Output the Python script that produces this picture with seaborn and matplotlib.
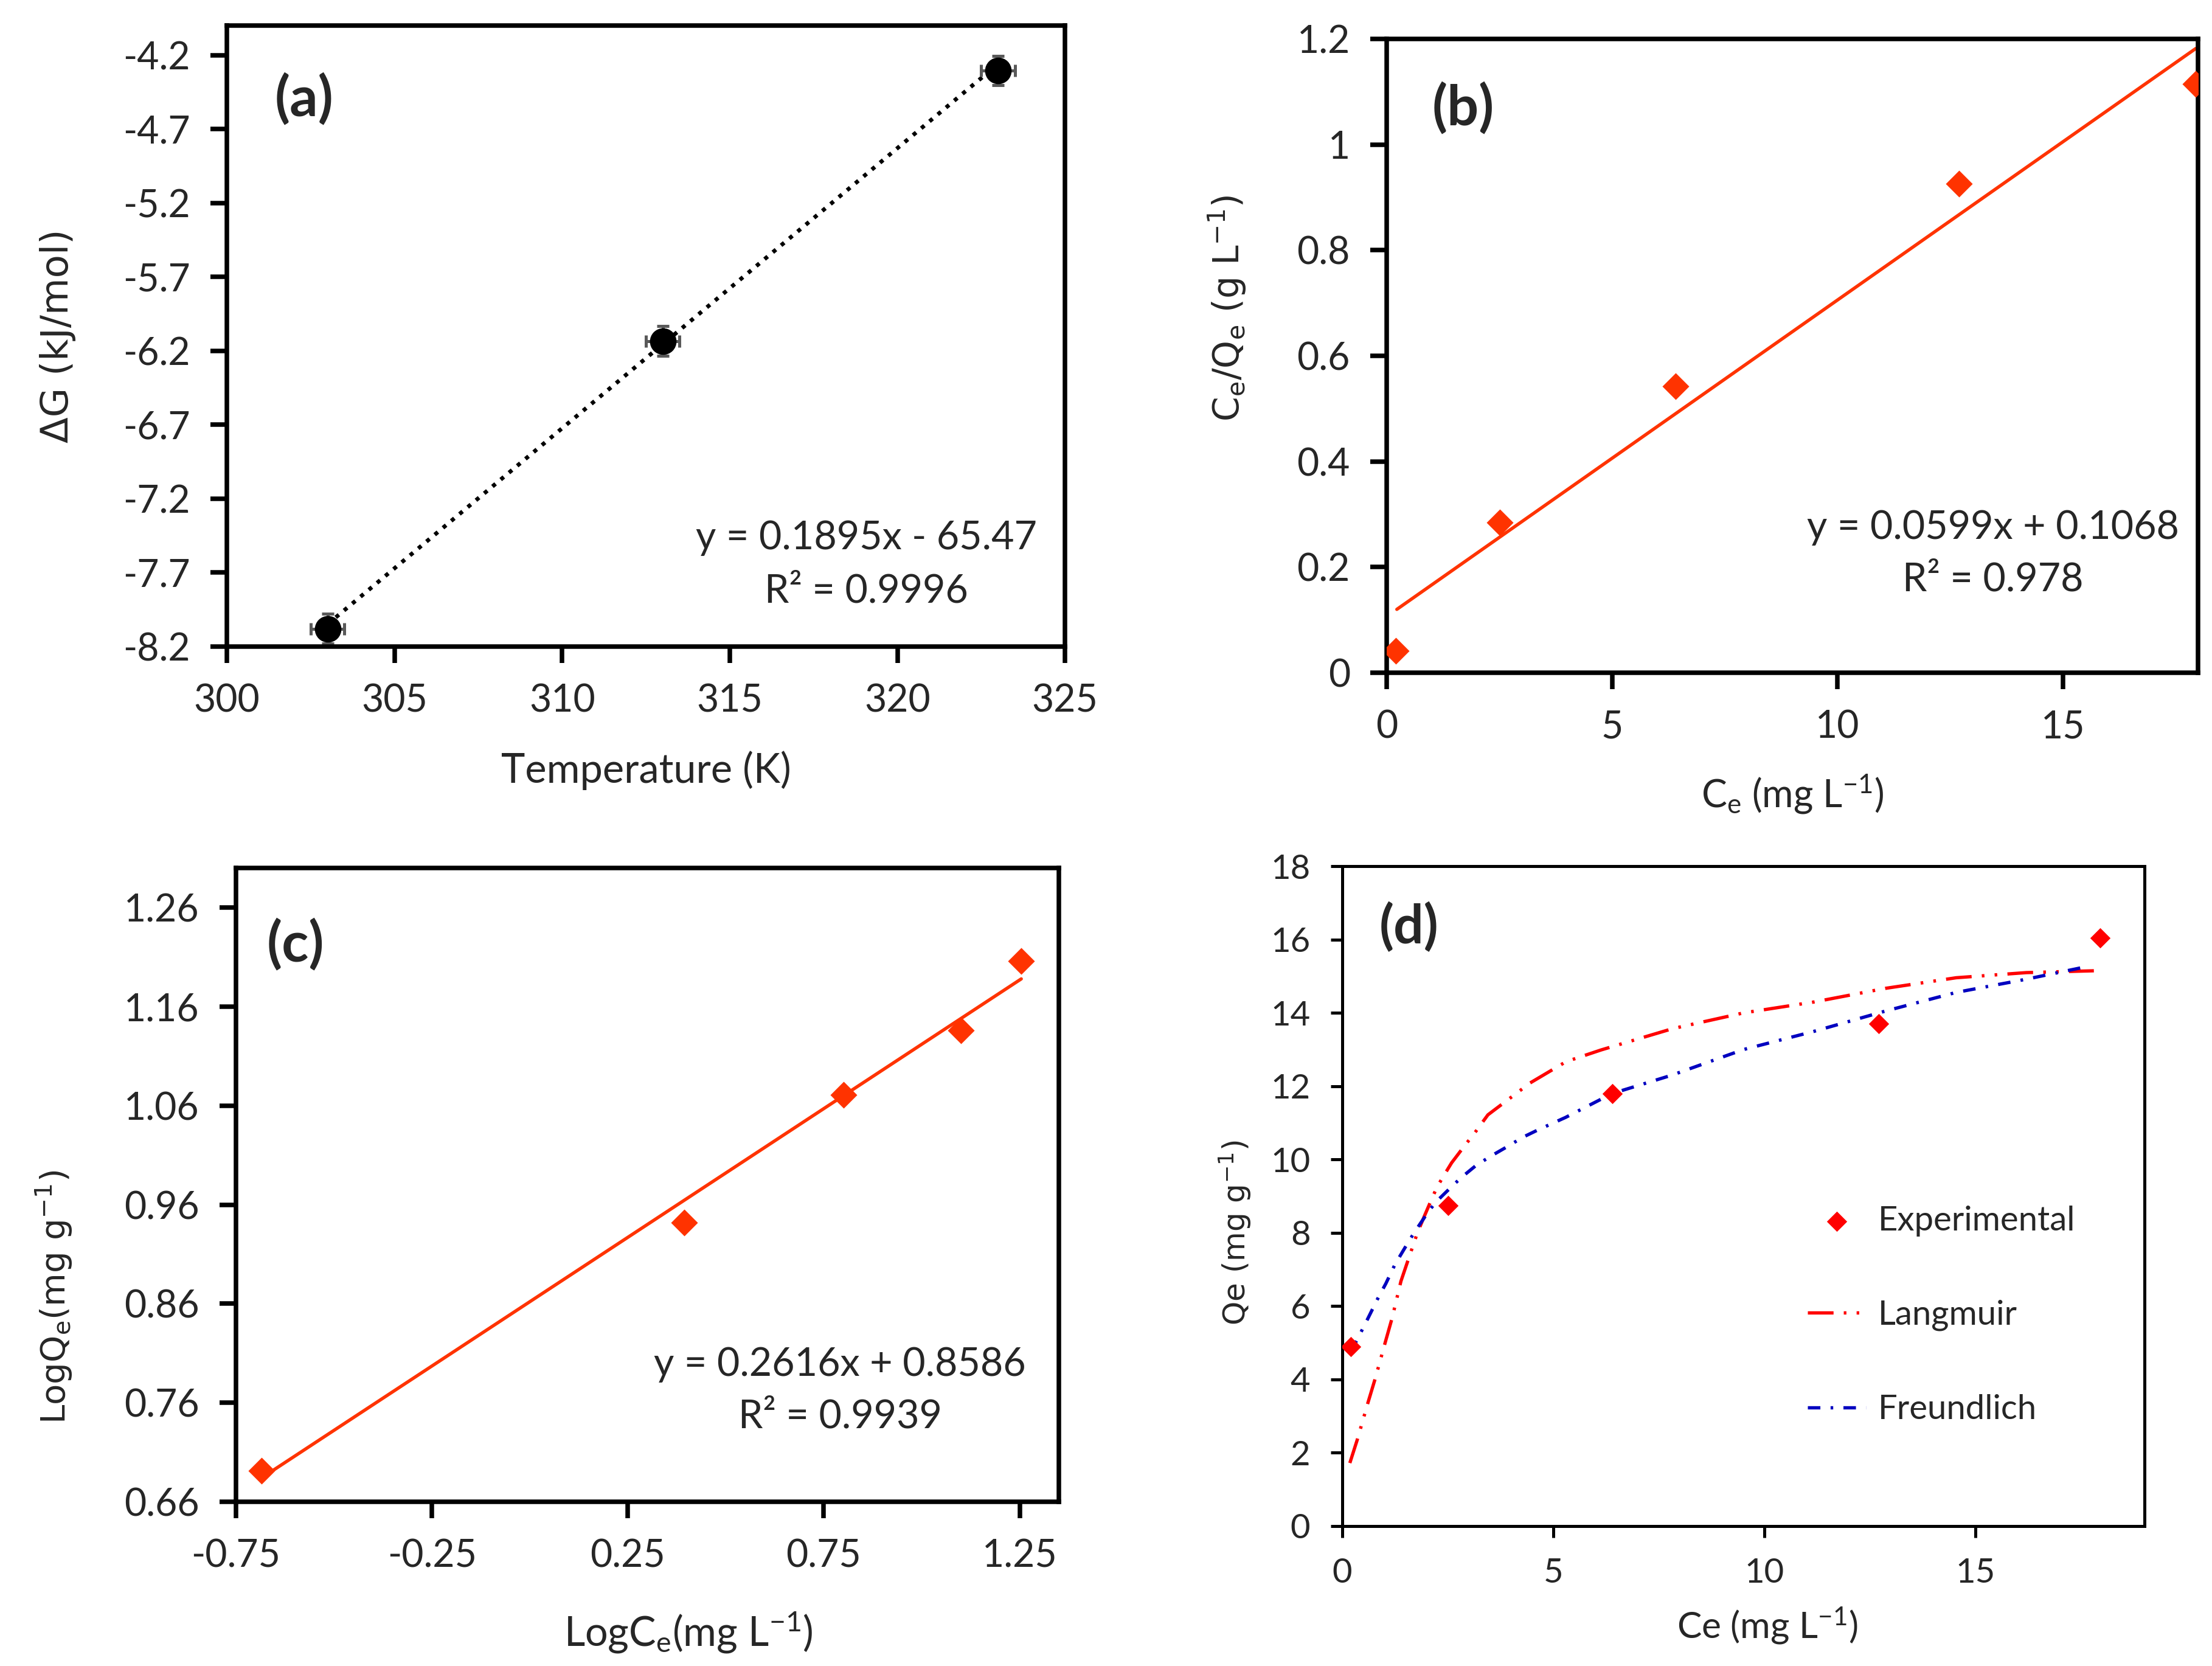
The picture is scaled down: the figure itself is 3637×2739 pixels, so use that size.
import numpy as np
import pandas as pd
import seaborn as sns
import matplotlib.pyplot as plt
from matplotlib.ticker import FixedLocator, FuncFormatter

sns.set_theme(style='ticks')
plt.rcParams['font.family'] = ['Lato', 'DejaVu Sans']
plt.rcParams['mathtext.default'] = 'regular'
plt.rcParams['axes.unicode_minus'] = False

# (a) Gibbs free energy vs temperature
temp_k = [303, 313, 323]
delta_g = [-8.08, -6.134, -4.304]
trend_a_x = [303, 323]
trend_a_y = [-8.05, -4.26]

# (b) Langmuir linear form
ce = [0.2, 2.5, 6.4, 12.7, 17.95]
ce_qe = [0.042, 0.284, 0.543, 0.926, 1.115]
trend_b_x = [0.22, 17.95]
trend_b_y = [0.12, 1.182]

# (c) Freundlich linear form
log_ce = [-0.685, 0.394, 0.801, 1.10, 1.254]
log_qe = [0.691, 0.942, 1.071, 1.136, 1.206]
trend_c_x = [-0.685, 1.254]
trend_c_y = [0.684, 1.188]

# (d) isotherms
qe = [4.9, 8.75, 11.8, 13.7, 16.05]
lang_x = [0.18, 0.36, 0.61, 0.78, 1.03, 1.18, 1.39, 1.59, 1.78, 1.95, 2.14, 2.25, 2.42,
          2.59, 2.92, 3.12, 3.45, 4.45, 5.3, 6.13, 7.82, 9.5, 11.18, 12.86, 14.54, 16.2, 17.8]
lang_y = [1.72, 2.37, 3.37, 4.02, 5.06, 5.67, 6.68, 7.36, 8.0, 8.47, 8.98, 9.26, 9.59,
          9.91, 10.41, 10.7, 11.22, 12.09, 12.67, 12.99, 13.57, 14.0, 14.3, 14.67, 14.96, 15.1, 15.15]
freu_x = [0.2, 0.47, 0.61, 0.86, 1.03, 1.25, 1.53, 1.70, 2.0, 2.2, 2.59, 2.81, 3.17, 3.53,
          3.89, 4.28, 4.62, 5.29, 6.39, 7.8, 9.5, 11.18, 12.86, 14.54, 16.2, 17.7]
freu_y = [4.75, 5.35, 5.67, 6.25, 6.61, 7.14, 7.68, 8.0, 8.51, 8.82, 9.26, 9.5, 9.84, 10.1,
          10.34, 10.61, 10.8, 11.15, 11.8, 12.3, 13.0, 13.5, 14.05, 14.56, 14.92, 15.28]

orange = '#FF3300'
tick_fs = 15
lab_fs = 16
eq_fs = 15.5

fig = plt.figure(figsize=(3637 / 300, 2739 / 300), dpi=300)
ax_a = fig.add_axes([0.1026, 0.612, 0.3789, 0.3726])
ax_b = fig.add_axes([0.627, 0.5962, 0.3667, 0.3804])
ax_c = fig.add_axes([0.1067, 0.0986, 0.372, 0.3804])
ax_d = fig.add_axes([0.6068, 0.084, 0.3627, 0.396])


def style_axes(ax, lw, fs, tl):
    for sp in ax.spines.values():
        sp.set_visible(True)
        sp.set_linewidth(lw)
        sp.set_color('black')
    ax.tick_params(direction='out', length=tl, width=lw, labelsize=fs, color='black',
                   top=False, right=False, pad=8)
    ax.grid(False)


def panel_tag(ax, txt, x, y, fs=22):
    ax.text(x, y, txt, transform=ax.transAxes, fontsize=fs, fontweight='bold',
            ha='center', va='center')


def equation(ax, l1, l2, x, y1, y2):
    ax.text(x, y1, l1, transform=ax.transAxes, fontsize=eq_fs, ha='center', va='center')
    ax.text(x, y2, l2, transform=ax.transAxes, fontsize=eq_fs, ha='center', va='center')


# ---- (a)
ax = ax_a
ax.errorbar(temp_k, delta_g, xerr=0.5, yerr=0.1, fmt='none', ecolor='#595959',
            elinewidth=1.2, capsize=2.5, capthick=1.2, zorder=2)
sns.lineplot(x=trend_a_x, y=trend_a_y, ax=ax, color='black', linewidth=1.6,
             linestyle=':', zorder=1)
sns.scatterplot(x=temp_k, y=delta_g, ax=ax, color='black', s=110, marker='o',
                edgecolor='black', linewidth=0, zorder=3)
ax.set_xlim(300, 325)
ax.set_ylim(-8.2, -4.0)
ax.xaxis.set_major_locator(FixedLocator([300, 305, 310, 315, 320, 325]))
ax.yaxis.set_major_locator(FixedLocator(np.arange(-8.2, -4.1, 0.5)))
ax.yaxis.set_major_formatter(FuncFormatter(lambda v, p: f'{v:.1f}'))
style_axes(ax, 1.8, tick_fs, 6.5)
ax.set_xlabel('Temperature (K)', fontsize=lab_fs)
ax.set_ylabel('ΔG (kJ/mol)', fontsize=15, family='DejaVu Sans')
ax.xaxis.set_label_coords(0.5, -0.168)
ax.yaxis.set_label_coords(-0.18, 0.5)
panel_tag(ax, '(a)', 0.092, 0.882)
equation(ax, 'y = 0.1895x - 65.47', 'R² = 0.9996', 0.763, 0.175, 0.089)

# ---- (b)
ax = ax_b
sns.lineplot(x=trend_b_x, y=trend_b_y, ax=ax, color=orange, linewidth=1.3, zorder=1)
sns.scatterplot(x=ce, y=ce_qe, ax=ax, color=orange, s=56, marker='D', linewidth=0, zorder=3)
ax.set_xlim(0, 18)
ax.set_ylim(0, 1.2)
ax.xaxis.set_major_locator(FixedLocator([0, 5, 10, 15]))
ax.yaxis.set_major_locator(FixedLocator([0, 0.2, 0.4, 0.6, 0.8, 1.0, 1.2]))
ax.yaxis.set_major_formatter(FuncFormatter(lambda v, p: f'{v:g}'))
style_axes(ax, 1.8, tick_fs, 6.5)
ax.set_xlabel(r'C$_e$ (mg L$^{-1}$)', fontsize=15)
ax.set_ylabel(r'C$_e$/Q$_e$ (g L$^{-1}$)', fontsize=14, family='DejaVu Sans')
ax.xaxis.set_label_coords(0.5, -0.158)
ax.yaxis.set_label_coords(-0.171, 0.575)
panel_tag(ax, '(b)', 0.094, 0.891)
equation(ax, 'y = 0.0599x + 0.1068', 'R² = 0.978', 0.747, 0.229, 0.147)

# ---- (c)
ax = ax_c
sns.lineplot(x=trend_c_x, y=trend_c_y, ax=ax, color=orange, linewidth=1.3, zorder=1)
sns.scatterplot(x=log_ce, y=log_qe, ax=ax, color=orange, s=56, marker='D', linewidth=0, zorder=3)
ax.set_xlim(-0.75, 1.35)
ax.set_ylim(0.66, 1.30)
ax.xaxis.set_major_locator(FixedLocator([-0.75, -0.25, 0.25, 0.75, 1.25]))
ax.yaxis.set_major_locator(FixedLocator([0.66, 0.76, 0.86, 0.96, 1.06, 1.16, 1.26]))
ax.xaxis.set_major_formatter(FuncFormatter(lambda v, p: f'{v:.2f}'))
ax.yaxis.set_major_formatter(FuncFormatter(lambda v, p: f'{v:.2f}'))
style_axes(ax, 1.8, tick_fs, 6.5)
ax.set_xlabel(r'LogC$_e$(mg L$^{-1}$)', fontsize=lab_fs)
ax.set_ylabel(r'LogQ$_e$(mg g$^{-1}$)', fontsize=13.5, family='DejaVu Sans')
ax.xaxis.set_label_coords(0.55, -0.171)
ax.yaxis.set_label_coords(-0.197, 0.323)
panel_tag(ax, '(c)', 0.072, 0.879)
equation(ax, 'y = 0.2616x + 0.8586', 'R² = 0.9939', 0.734, 0.2165, 0.134)

# ---- (d)
ax = ax_d
sns.lineplot(x=lang_x, y=lang_y, ax=ax, color='#FF0000', linewidth=1.3, sort=False,
             linestyle=(0, (7.8, 3.1, 0.8, 3.1, 0.8, 3.1)), label='Langmuir', zorder=1)
sns.lineplot(x=freu_x, y=freu_y, ax=ax, color='#0000C0', linewidth=1.3, sort=False,
             linestyle=(0, (3.8, 3.1, 0.8, 3.1)), label='Freundlich', zorder=2)
sns.scatterplot(x=ce, y=qe, ax=ax, color='#FF0000', s=32, marker='D', linewidth=0,
                label='Experimental', zorder=3)
ax.set_xlim(0, 19)
ax.set_ylim(0, 18)
ax.xaxis.set_major_locator(FixedLocator([0, 5, 10, 15]))
ax.yaxis.set_major_locator(FixedLocator(np.arange(0, 19, 2)))
style_axes(ax, 1.2, 13.5, 4.6)
ax.set_xlabel(r'Ce (mg L$^{-1}$)', fontsize=14.5)
ax.set_ylabel(r'Qe (mg g$^{-1}$)', fontsize=12, family='DejaVu Sans')
ax.xaxis.set_label_coords(0.53, -0.12)
ax.yaxis.set_label_coords(-0.111, 0.444)
panel_tag(ax, '(d)', 0.083, 0.908, fs=21)
h, l = ax.get_legend_handles_labels()
order = [l.index('Experimental'), l.index('Langmuir'), l.index('Freundlich')]
ax.legend([h[i] for i in order], [l[i] for i in order], loc='upper left',
          bbox_to_anchor=(0.559, 0.512), frameon=False, fontsize=13.5, labelspacing=1.85,
          handlelength=1.7, handletextpad=0.35, borderpad=0, scatterpoints=1)

fig.savefig('out.png', dpi=300)
